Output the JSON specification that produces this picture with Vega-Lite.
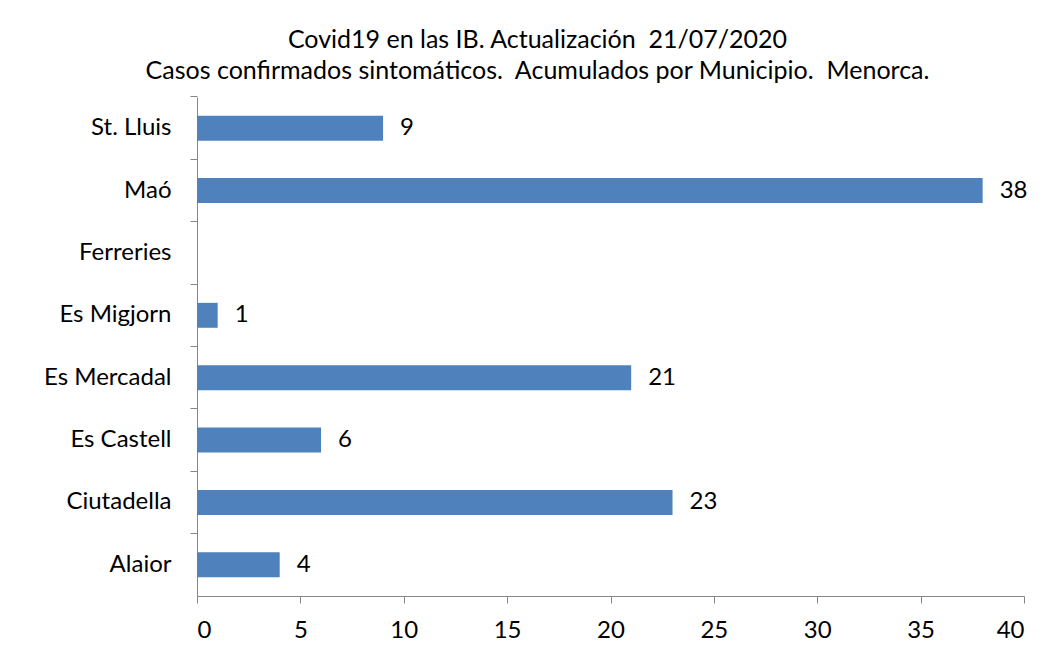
{
  "$schema": "https://vega.github.io/schema/vega-lite/v6.json",
  "width": 827,
  "height": 499,
  "autosize": {"type": "none"},
  "padding": {"left": 197, "top": 97, "right": 26, "bottom": 58},
  "background": "white",
  "title": {
    "text": ["Covid19 en las IB. Actualización\u00a0 21/07/2020", "Casos confirmados sintomáticos.\u00a0 Acumulados por Municipio.\u00a0 Menorca."],
    "font": "Lato",
    "fontSize": 25,
    "fontWeight": "normal",
    "color": "#000000",
    "anchor": "middle",
    "dx": -73,
    "offset": 12,
    "lineHeight": 31
  },
  "data": {
    "values": [
      {"municipio": "St. Lluis", "casos": 9},
      {"municipio": "Maó", "casos": 38},
      {"municipio": "Ferreries", "casos": null},
      {"municipio": "Es Migjorn\u00a0", "casos": 1},
      {"municipio": "Es Mercadal", "casos": 21},
      {"municipio": "Es Castell", "casos": 6},
      {"municipio": "Ciutadella", "casos": 23},
      {"municipio": "Alaior", "casos": 4}
    ]
  },
  "encoding": {
    "y": {
      "field": "municipio",
      "type": "nominal",
      "scale": {"domain": ["St. Lluis", "Maó", "Ferreries", "Es Migjorn\u00a0", "Es Mercadal", "Es Castell", "Ciutadella", "Alaior"], "paddingInner": 0.6, "paddingOuter": 0.3},
      "axis": {
        "title": null,
        "bandPosition": -0.75,
        "domainColor": "#868686",
        "tickColor": "#868686",
        "tickSize": 7,
        "labelPadding": 19,
        "labelFont": "Lato",
        "labelFontSize": 24,
        "labelColor": "#000000"
      }
    },
    "x": {
      "field": "casos",
      "type": "quantitative",
      "scale": {"domain": [0, 40], "nice": false},
      "axis": {
        "title": null,
        "values": [0, 5, 10, 15, 20, 25, 30, 35, 40],
        "grid": false,
        "domainColor": "#868686",
        "tickColor": "#868686",
        "tickSize": 7,
        "labelPadding": 15,
        "labelFont": "Lato",
        "labelFontSize": 24,
        "labelColor": "#000000"
      }
    }
  },
  "layer": [
    {"mark": {"type": "bar", "color": "#4F81BD"}},
    {"mark": {"type": "text", "align": "left", "dx": 17, "font": "Lato", "fontSize": 24, "color": "#000000"},
     "encoding": {"text": {"field": "casos", "type": "quantitative"}}}
  ],
  "config": {"view": {"stroke": null}}
}
